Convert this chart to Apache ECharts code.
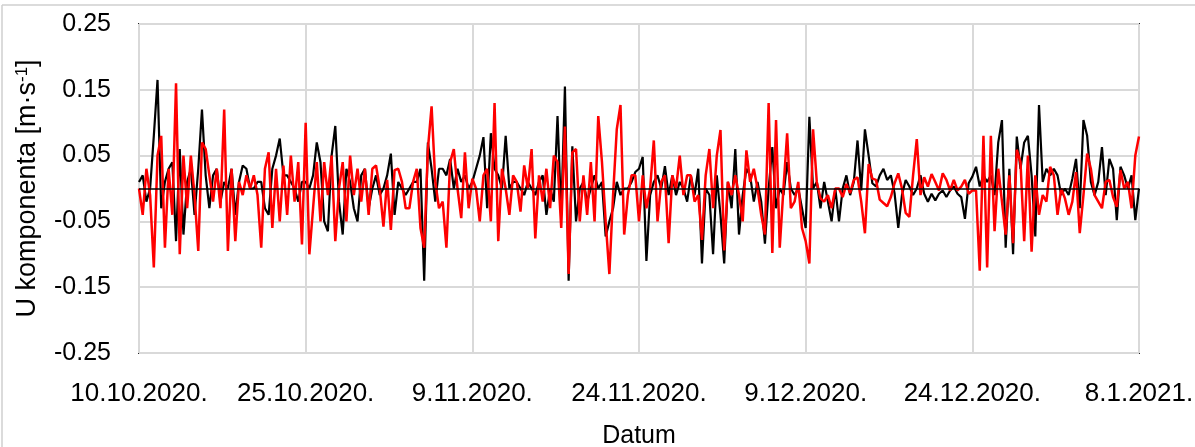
<!DOCTYPE html>
<html>
<head>
<meta charset="utf-8">
<script src="https://cdn.jsdelivr.net/npm/echarts@6/dist/echarts.min.js"></script>
<style>
html, body { margin: 0; padding: 0; background: #fff; }
#main { width: 1195px; height: 447px; }
</style>
</head>
<body>
<div id="main"></div>
<script>
// start of record and sampling step (one value every 8 h)
var startDate = Date.UTC(2020, 9, 10);
var stepDays = 1 / 3;
var xMinDays = 0, xMaxDays = 90, xTickDays = 15;
var yMin = -0.25, yMax = 0.25, yTick = 0.1;

// U component [m/s], black series
var blackU = [
	0.01, 0.02, -0.02, 0.00, 0.08, 0.165, -0.03, 0.01, 0.03, 0.04,
	-0.08, 0.06, -0.07, 0.01, 0.03, -0.04, 0.03, 0.12, 0.02, -0.03,
	0.02, 0.03, -0.02, 0.01, 0.00, 0.03, -0.04, 0.01, 0.035, 0.03,
	0.00,
	0.00, 0.01, 0.01, -0.03, -0.04, 0.03, 0.05, 0.076, 0.02, 0.02,
	0.01, 0.00, -0.02, 0.01, 0.01, 0.00, 0.02, 0.07, 0.04, -0.05,
	-0.065, 0.05, 0.095, -0.02, -0.07, 0.03, 0.01, -0.03, -0.05, 0.02,
	0.03, -0.03, 0.00, 0.02, -0.01, 0.00, 0.02, 0.053, -0.04, 0.01,
	0.00, -0.01, 0.00, 0.01, 0.01, 0.03, -0.14, 0.07, 0.03, -0.02,
	0.03, 0.03, 0.02, 0.045, 0.00, 0.03, 0.01, 0.02, 0.00, 0.01,
	0.03, 0.05, 0.078, -0.03, 0.084, 0.03, 0.02, 0.00, 0.08, 0.00,
	0.01, 0.01, 0.00, -0.01, 0.01, 0.00, -0.01, 0.01, 0.02, -0.04,
	0.00, -0.02, 0.11, -0.04, 0.155, -0.14, 0.064, -0.05, 0.00,
	0.01, -0.02, 0.00, 0.02, 0.00, 0.01, -0.073, -0.05, -0.03, 0.01,
	-0.01, 0.00, 0.00, 0.01, 0.025, 0.03, 0.048, -0.11, -0.01, 0.01,
	0.02, 0.00, 0.034, -0.01, 0.02, -0.01, 0.01, 0.00, -0.02,
	0.02, -0.01, 0.03, -0.114, 0.00, -0.01, -0.10, 0.02, -0.04, -0.114,
	0.01, -0.03, 0.06, -0.07, -0.01, 0.03, 0.02, -0.02, 0.01, -0.02,
	-0.084, 0.00, 0.063, -0.03, 0.00, -0.01, 0.04, 0.00, -0.01, 0.00,
	-0.03, -0.06, 0.109, 0.00, 0.01, -0.03, 0.01, -0.02, -0.05, 0.00,
	-0.05, 0.00, 0.02, -0.01, 0.01, 0.073, -0.003, 0.09, 0.05, 0.008,
	0.003, 0.02, 0.03, 0.013, 0.02, -0.007, -0.06, -0.01, 0.013, 0.003,
	-0.01, 0.00, 0.02, -0.008, -0.02, -0.008, -0.018, -0.008, -0.003, -0.013,
	-0.003, 0.003, -0.008, -0.013, -0.046, 0.008, 0.018, 0.033, 0.003, 0.02,
	0.01, 0.02, -0.01, 0.07, 0.104, -0.09, 0.03, -0.10, 0.079, 0.03,
	0.07, 0.08, 0.02, -0.073, 0.127, 0.01, 0.03, 0.02, 0.03, 0.02,
	-0.01, 0.00, -0.01, 0.015, 0.045, -0.03, 0.104, 0.08, 0.01, -0.01,
	0.01, 0.063, -0.01, 0.045, 0.03, -0.048, 0.033, 0.02, 0.00, 0.02,
	-0.048, 0.00
];

// U component [m/s], red series
var redU = [
	0.00, -0.04, 0.03, -0.01, -0.12, 0.05, 0.08, -0.09, 0.03, -0.04,
	0.16, -0.10, 0.05, -0.03, 0.05, -0.01, -0.095, 0.07, 0.06, 0.02,
	-0.02, 0.03, -0.03, 0.12, -0.095, 0.03, -0.08, 0.01, -0.01, 0.02,
	0.00,
	0.02, -0.01, -0.09, 0.03, 0.055, -0.06, 0.03, -0.05, 0.035, -0.04,
	0.05, -0.02, 0.04, -0.085, 0.10, -0.10, -0.03, 0.04, -0.05, 0.04,
	-0.01, 0.05, -0.08, 0.00, 0.04, -0.05, 0.05, -0.01, 0.03, -0.02,
	0.03, -0.04, 0.03, 0.035, 0.00, -0.058, 0.013, -0.063, 0.028, 0.03,
	0.01, -0.03, -0.03, 0.01, 0.03, -0.06, -0.09, 0.06, 0.125, 0.01,
	-0.03, -0.02, -0.09, 0.04, 0.06, 0.00, -0.045, 0.055, -0.03, 0.015,
	0.00, -0.05, 0.02, 0.03, -0.05, 0.13, -0.08, 0.03, 0.00, -0.04,
	0.02, 0.01, -0.035, 0.035, 0.00, 0.06, -0.076, 0.02, -0.02, 0.03,
	-0.03, 0.05, 0.04, -0.06, 0.094, -0.13, 0.055, 0.06, -0.05,
	0.02, -0.04, 0.04, -0.05, 0.11, 0.04, -0.05, -0.13, -0.01, 0.09,
	0.127, -0.07, -0.01, 0.02, 0.02, -0.05, 0.02, -0.03, 0.00, 0.073,
	-0.05, 0.01, 0.02, -0.083, 0.02, 0.00, 0.05, -0.01, 0.02,
	0.02, -0.02, -0.01, -0.078, 0.02, 0.06, -0.03, 0.05, 0.089, -0.094,
	0.01, -0.01, 0.02, -0.01, -0.05, 0.058, 0.01, 0.03, 0.00, -0.04,
	-0.07, 0.13, -0.098, 0.104, -0.09, 0.00, 0.084, -0.03, -0.02, 0.01,
	-0.06, -0.08, -0.114, 0.09, 0.01, -0.015, -0.02, -0.01, -0.03, 0.00,
	0.00, -0.013, 0.007, -0.007, 0.013, 0.017, -0.02, -0.068, 0.037, 0.015,
	0.013, -0.017, -0.022, -0.027, -0.013, 0.008, 0.023, 0.00, -0.037, -0.043,
	0.02, 0.075, -0.01, 0.017, 0.003, 0.022, 0.01, -0.003, 0.023, 0.013,
	-0.003, 0.013, -0.003, 0.003, 0.013, -0.008, -0.003, -0.003, -0.125, 0.08,
	-0.12, 0.08, -0.065, 0.03, -0.02, -0.07, 0.02, -0.083, 0.059, 0.04,
	-0.08, 0.05, -0.096, 0.02, -0.04, -0.01, -0.02, 0.033, 0.02, -0.04,
	0.00, -0.015, -0.04, -0.02, 0.025, -0.068, -0.01, 0.053, 0.03, -0.01,
	-0.02, -0.03, 0.01, 0.013, -0.013, -0.028, 0.028, 0.00, 0.01, -0.03,
	0.05, 0.079
];

function toPairs(values) {
	var out = [];
	for (var i = 0; i < values.length; i++) {
		out.push([i * stepDays, values[i]]);
	}
	return out;
}

function dayLabel(d) {
	var dt = new Date(startDate + Math.round(d) * 86400000);
	return dt.getUTCDate() + '.' + (dt.getUTCMonth() + 1) + '.' + dt.getUTCFullYear() + '.';
}

var font = "'Liberation Sans', Arial, sans-serif";

var chart = echarts.init(document.getElementById('main'));
var option = {
	animation: false,
	backgroundColor: '#fff',
	grid: {
		left: 139,
		right: 56,
		top: 24,
		bottom: 94,
		show: true,
		borderColor: '#262626',
		borderWidth: 2,
		containLabel: false,
		outerBoundsMode: 'none'
	},
	xAxis: {
		type: 'value',
		min: xMinDays,
		max: xMaxDays,
		interval: xTickDays,
		name: 'Datum',
		nameLocation: 'middle',
		nameGap: 71,
		nameTextStyle: { fontFamily: font, fontSize: 25, color: '#000' },
		axisLine: { show: false },
		axisTick: { show: false },
		axisLabel: {
			margin: 28,
			fontFamily: font,
			fontSize: 26,
			color: '#000',
			showMinLabel: true,
			showMaxLabel: true,
			hideOverlap: false,
			formatter: dayLabel
		},
		splitLine: { show: true, lineStyle: { color: '#d9d9d9', width: 2 } }
	},
	yAxis: {
		type: 'value',
		min: yMin,
		max: yMax,
		interval: yTick,
		name: 'U komponenta [m·s{sup|-1}]',
		nameLocation: 'middle',
		nameRotate: 90,
		nameGap: 98,
		nameTextStyle: {
			fontFamily: font,
			fontSize: 27,
			color: '#000',
			rich: {
				sup: { fontFamily: font, fontSize: 17, color: '#000', verticalAlign: 'top', lineHeight: 17 }
			}
		},
		axisLine: { show: false },
		axisTick: { show: false },
		axisLabel: {
			margin: 28,
			fontFamily: font,
			fontSize: 25,
			color: '#000',
			showMinLabel: true,
			showMaxLabel: true,
			formatter: function (v) { return (Math.round(v * 100) / 100).toFixed(2); }
		},
		splitLine: { show: true, lineStyle: { color: '#d9d9d9', width: 2 } }
	},
	series: [
		{
			name: 'crna',
			type: 'line',
			data: toPairs(blackU),
			showSymbol: false,
			lineStyle: { color: '#000', width: 2.2 },
			markLine: {
				silent: true,
				symbol: 'none',
				label: { show: false },
				lineStyle: { color: '#000', width: 1.5, type: 'solid' },
				data: [{ yAxis: 0 }]
			}
		},
		{
			name: 'crvena',
			type: 'line',
			data: toPairs(redU),
			showSymbol: false,
			lineStyle: { color: '#ff0000', width: 2.5 }
		}
	],
	graphic: [
		{ type: 'line', shape: { x1: 2, y1: 5, x2: 1195, y2: 5 }, style: { stroke: '#cfcfcf', lineWidth: 1.5 } },
		{ type: 'line', shape: { x1: 2, y1: 5, x2: 2, y2: 447 }, style: { stroke: '#cfcfcf', lineWidth: 1.5 } }
	]
};
chart.setOption(option);
</script>
</body>
</html>
